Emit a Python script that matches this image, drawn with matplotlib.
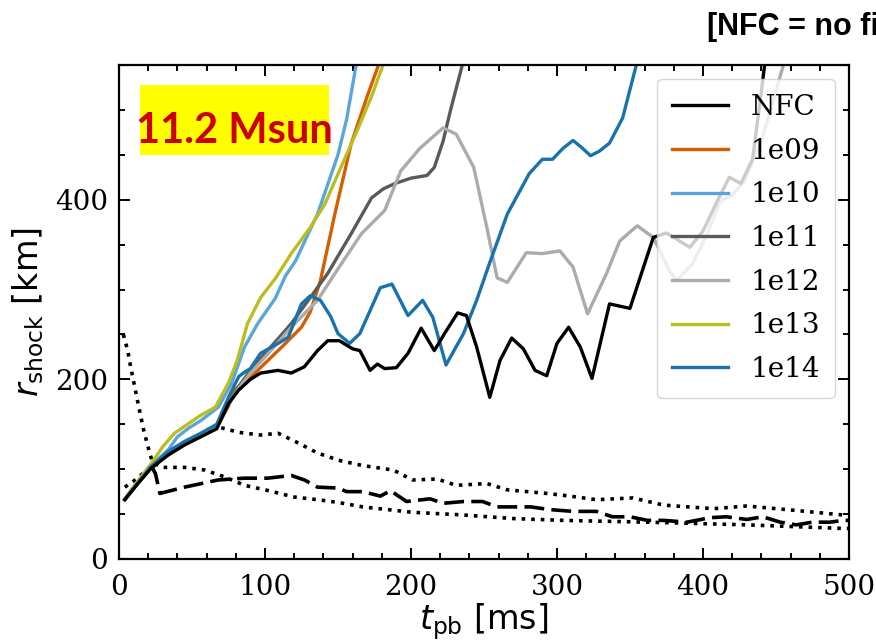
import matplotlib
matplotlib.use("Agg")
import matplotlib.pyplot as plt
from matplotlib.patches import Rectangle
from matplotlib.ticker import MultipleLocator

# ---- shock radius vs. post-bounce time ----
t_nfc = [4, 13, 22, 34, 45, 56, 67, 75, 82, 90, 97, 109, 118, 127, 136, 143, 151, 160, 165,
         172, 177, 182, 190, 198, 207, 216, 223, 232, 238, 245, 254, 261, 269, 277, 285, 293,
         300, 308, 316, 324, 336, 350, 366, 375, 383, 391, 400, 410, 418, 426, 434, 440, 446]
r_nfc = [66, 84, 101, 116, 127, 136, 145, 173, 188, 200, 207, 210, 207, 214, 232, 243, 243, 234, 232,
         210, 217, 212, 213, 229, 257, 232, 251, 274, 271, 236, 180, 221, 246, 234, 210, 204,
         240, 258, 236, 201, 284, 279, 358, 363, 355, 347, 365, 399, 425, 418, 445, 520, 600]

t_1e09 = [4, 13, 22, 34, 45, 56, 67, 75, 79, 90, 102, 114, 125, 131, 138, 148, 159, 170, 180]
r_1e09 = [66, 85, 102, 118, 129, 138, 147, 170, 188, 202, 221, 240, 258, 275, 310, 385, 462, 515, 560]

t_1e10 = [4, 13, 22, 34, 40, 48, 56, 68, 77, 86, 95, 107, 114, 121, 136, 150, 156, 163]
r_1e10 = [67, 86, 104, 122, 136, 146, 154, 169, 195, 236, 262, 290, 315, 332, 384, 450, 490, 555]

t_1e11 = [4, 13, 22, 34, 45, 56, 67, 75, 82, 90, 104, 118, 131, 143, 159, 173, 181, 189,
          200, 211, 216, 222, 227, 236]
r_1e11 = [66, 85, 102, 118, 129, 139, 149, 172, 192, 210, 236, 262, 291, 318, 362, 402, 412, 418,
          424, 427, 436, 465, 499, 555]

t_1e12 = [4, 13, 22, 34, 45, 56, 67, 75, 82, 90, 104, 118, 136, 148, 166, 182, 193, 206, 222,
          231, 243, 252, 259, 266, 279, 290, 302, 311, 321, 334, 343, 355, 366, 377, 382, 393,
          403, 412, 420, 428, 440, 448, 456]
r_1e12 = [66, 85, 102, 118, 129, 139, 149, 172, 190, 207, 232, 258, 288, 318, 362, 388, 432, 457, 480,
          473, 436, 369, 313, 308, 341, 340, 343, 325, 273, 318, 354, 371, 358, 321, 310, 329,
          362, 399, 405, 420, 465, 510, 555]

t_1e13 = [4, 13, 22, 30, 38, 47, 56, 66, 75, 81, 88, 97, 107, 118, 131, 141, 152, 164, 173, 182]
r_1e13 = [67, 87, 106, 125, 140, 150, 160, 169, 196, 221, 262, 291, 312, 340, 369, 395, 436, 480, 515, 555]

t_1e14 = [4, 13, 22, 34, 45, 56, 67, 75, 82, 86, 90, 97, 109, 116, 125, 131, 138, 145, 150,
          158, 165, 179, 187, 198, 208, 215, 224, 236, 245, 254, 266, 281, 290, 297, 304, 311,
          317, 323, 329, 336, 345, 355]
r_1e14 = [66, 85, 103, 120, 131, 140, 150, 180, 203, 208, 212, 229, 240, 247, 284, 293, 288, 270, 251,
          240, 251, 302, 306, 271, 288, 269, 216, 251, 288, 330, 384, 429, 445, 445, 457, 466,
          458, 449, 454, 463, 491, 554]

# ---- auxiliary radii of the NFC run ----
t_dot_a = [3, 6, 8, 11, 14, 17, 21, 23, 29, 45, 59, 73, 86, 100, 120, 136, 150, 167, 201, 236,
           270, 304, 362, 430, 496, 500]
r_dot_a = [250, 232, 214, 190, 166, 143, 118, 108, 102, 102, 99, 91, 82, 77, 69, 66, 63, 58, 52, 49,
           45, 43, 41, 38, 34, 34]

t_dot_b = [4, 13, 22, 34, 45, 56, 68, 82, 97, 109, 123, 136, 145, 150, 167, 188, 201, 218, 231,
           252, 266, 293, 309, 327, 352, 373, 407, 430, 464, 496, 500]
r_dot_b = [80, 90, 104, 118, 129, 138, 147, 141, 138, 140, 129, 118, 113, 110, 104, 99, 88, 89, 82,
           84, 77, 73, 70, 66, 68, 60, 56, 59, 54, 49, 49]

t_dash = [22, 25, 28, 45, 68, 86, 102, 118, 127, 136, 150, 156, 167, 179, 186, 197, 213, 222, 236,
          249, 259, 273, 282, 295, 311, 327, 338, 350, 362, 373, 389, 405, 416, 430, 441, 453,
          464, 475, 487, 496, 500]
r_dash = [104, 95, 73, 80, 88, 90, 90, 93, 88, 80, 79, 75, 75, 70, 76, 64, 67, 62, 64,
          64, 58, 58, 58, 55, 53, 53, 47, 47, 43, 43, 41, 46, 47, 44, 47, 41,
          38, 41, 41, 43, 43]

series = [
    ("NFC", t_nfc, r_nfc, "black"),
    ("1e09", t_1e09, r_1e09, "#d55e00"),
    ("1e10", t_1e10, r_1e10, "#5aa5dc"),
    ("1e11", t_1e11, r_1e11, "#5a5a5a"),
    ("1e12", t_1e12, r_1e12, "#ababab"),
    ("1e13", t_1e13, r_1e13, "#bcbd22"),
    ("1e14", t_1e14, r_1e14, "#1a72ad"),
]

x_ticks = [0, 100, 200, 300, 400, 500]
y_ticks = [0, 200, 400]

fig = plt.figure(figsize=(8.76, 6.44), dpi=100)
ax = fig.add_axes([0.1358, 0.1320, 0.8333, 0.7671])

ax.plot(t_dot_a, r_dot_a, color="black", lw=2.6, ls=":")
ax.plot(t_dot_b, r_dot_b, color="black", lw=2.6, ls=":")
ax.plot(t_dash, r_dash, color="black", lw=2.6, ls=(0, (5.5, 2.0)))

# draw NFC last so it stays on top
for label, t, r, c in series[1:]:
    ax.plot(t, r, color=c, lw=2.4, label=label, solid_joinstyle="round")
ax.plot(t_nfc, r_nfc, color="black", lw=2.4, label="NFC", solid_joinstyle="round")

ax.set_xlim(0, 500)
ax.set_ylim(0, 550)
ax.set_xticks(x_ticks)
ax.set_yticks(y_ticks)
ax.xaxis.set_minor_locator(MultipleLocator(20))
ax.yaxis.set_minor_locator(MultipleLocator(50))
ax.tick_params(which="both", direction="in", top=True, right=True, width=1.4)
ax.tick_params(which="major", length=8, labelsize=20)
ax.tick_params(axis="x", which="major", pad=11)
ax.tick_params(axis="y", which="major", pad=8)
ax.tick_params(which="minor", length=4)
for lab in ax.get_xticklabels() + ax.get_yticklabels():
    lab.set_fontfamily("DejaVu Serif")
for sp in ax.spines.values():
    sp.set_linewidth(1.6)

ax.set_xlabel(r"$t_{\rm pb}$ [ms]", fontsize=24, family="DejaVu Sans", labelpad=0)
ax.set_ylabel(r"$r_{\rm shock}$ [km]", fontsize=24, family="DejaVu Sans", labelpad=6)

handles, labels = ax.get_legend_handles_labels()
order = [labels.index(s[0]) for s in series]
ax.legend([handles[i] for i in order], [labels[i] for i in order], loc="upper right",
          prop={"family": "DejaVu Serif", "size": 20}, handlelength=2.0,
          labelspacing=0.6, borderpad=0.55, framealpha=0.8)

# mass annotation
fig.patches.append(Rectangle((140 / 876, 1 - 155 / 644), 189 / 876, 70 / 644,
                             transform=fig.transFigure, facecolor="#ffff00",
                             edgecolor="none", zorder=5))
fig.text(234.5 / 876, 1 - 143 / 644, "11.2 Msun", color="#cc0000", fontsize=30,
         family="Lato", weight="bold", ha="center", va="baseline", zorder=6)

fig.text(707 / 876, 1 - 27 / 644, "[NFC = no field]", fontsize=22, family="Liberation Sans",
         weight="bold", ha="left", va="center")

fig.savefig("out.png", dpi=100)
